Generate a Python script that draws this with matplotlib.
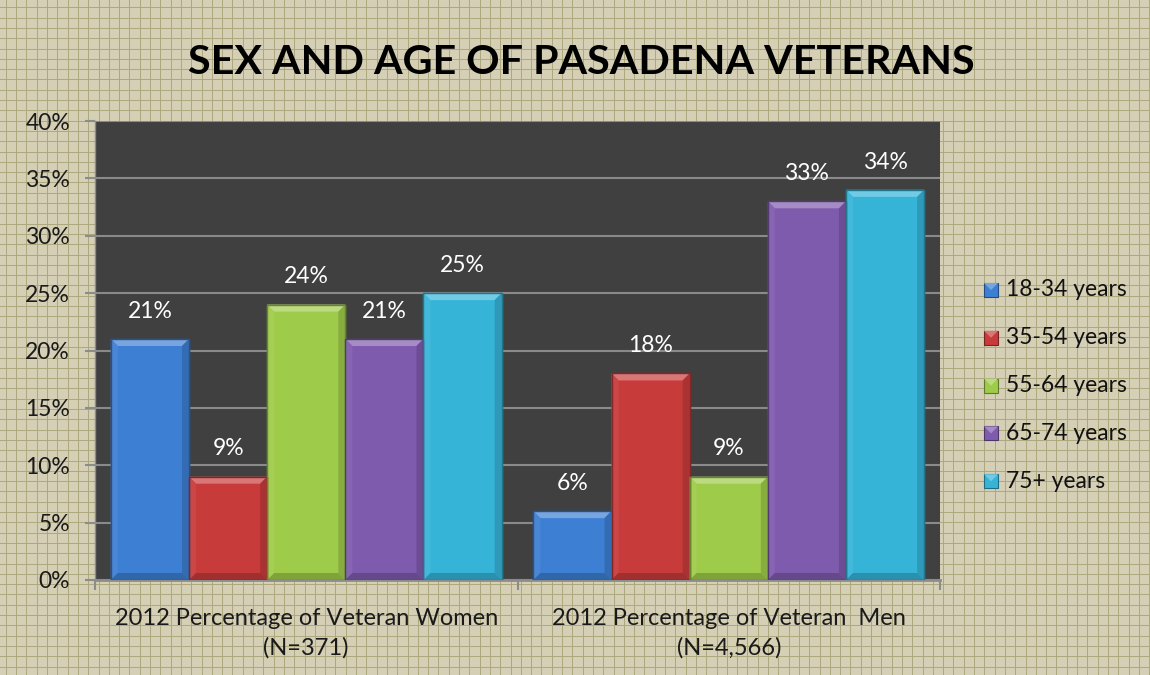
import matplotlib
matplotlib.use("Agg")
import matplotlib.pyplot as plt
from matplotlib.patches import Polygon, Rectangle
import matplotlib.colors as mcolors
import numpy as np

plt.rcParams['font.family'] = ['Lato', 'DejaVu Sans']

title = "SEX AND AGE OF PASADENA VETERANS"
categories = ["2012 Percentage of Veteran Women\n(N=371)",
              "2012 Percentage of Veteran  Men\n(N=4,566)"]
series = ["18-34 years", "35-54 years", "55-64 years", "65-74 years", "75+ years"]
values = {
    "18-34 years": [21, 6],
    "35-54 years": [9, 18],
    "55-64 years": [24, 9],
    "65-74 years": [21, 33],
    "75+ years": [25, 34],
}
colors = ["#3d7fd3", "#c83b3b", "#9fcb4a", "#7f5bae", "#36b4d8"]
yticks = [0, 5, 10, 15, 20, 25, 30, 35, 40]

W, H = 1150, 675
fig = plt.figure(figsize=(W / 100, H / 100), dpi=100)
fig.patch.set_facecolor("#d4cfb5")

# textured background grid
bg = fig.add_axes([0, 0, 1, 1], zorder=-5)
bg.set_xlim(0, W)
bg.set_ylim(H, 0)
bg.axis("off")
for gx in np.arange(5.8, W, 10.3):
    bg.axvline(gx, color="#aca77c", lw=0.7, zorder=0)
for gy in np.arange(7.3, H, 10.3):
    bg.axhline(gy, color="#aca77c", lw=0.7, zorder=0)

left, right, top, bottom = 95, 940, 121, 580
ax = fig.add_axes([left / W, 1 - bottom / H, (right - left) / W, (bottom - top) / H])
ax.set_facecolor("#404040")
ax.set_xlim(-0.5, 1.5)
ax.set_ylim(0, 40)

ax.set_yticks(yticks)
ax.set_yticklabels([f"{t}%" for t in yticks], fontsize=16.5, color="#1a1a1a")
ax.yaxis.grid(True, color="#8a8a8a", lw=1.5)
ax.set_axisbelow(True)
ax.tick_params(axis="y", length=7, width=1.5, color="#8c8c8c", pad=11)
ax.set_xticks([-0.5, 0.5, 1.5])
ax.set_xticklabels([])
ax.set_xticks([0, 1], minor=True)
ax.set_xticklabels(categories, minor=True, fontsize=17, color="#1a1a1a", linespacing=1.5)
ax.tick_params(axis="x", which="major", length=7, width=1.5, color="#8c8c8c", direction="out")
ax.tick_params(axis="x", which="minor", length=0, pad=20)
for s in ["top", "right"]:
    ax.spines[s].set_visible(False)
ax.spines["left"].set_color("#8c8c8c")
ax.spines["left"].set_linewidth(1.0)
ax.spines["bottom"].set_color("#8c8c8c")
ax.spines["bottom"].set_linewidth(2.0)

# pixel -> data conversions for bevels
px_x = 2.0 / (right - left)
px_y = 40.0 / (bottom - top)
bev = 7

def shade(c, f):
    r, g, b = mcolors.to_rgb(c)
    if f > 1:
        return (r + (1 - r) * (f - 1), g + (1 - g) * (f - 1), b + (1 - b) * (f - 1))
    return (r * f, g * f, b * f)

bw = 0.185
x = np.arange(len(categories))
for i, (name, col) in enumerate(zip(series, colors)):
    vals = values[name]
    bars = ax.bar(x + (i - 2) * bw, vals, width=bw, color=col,
                  edgecolor=shade(col, 0.7), linewidth=1.0, zorder=3)
    for rect, v in zip(bars, vals):
        x0, y0 = rect.get_x(), rect.get_y()
        x1, y1 = x0 + rect.get_width(), y0 + rect.get_height()
        dx, dy = bev * px_x, bev * px_y
        polys = [
            ([(x0, y1), (x1, y1), (x1 - dx, y1 - dy), (x0 + dx, y1 - dy)], shade(col, 1.3)),
            ([(x0, y0), (x0, y1), (x0 + dx, y1 - dy), (x0 + dx, y0 + dy)], shade(col, 1.06)),
            ([(x1, y0), (x1, y1), (x1 - dx, y1 - dy), (x1 - dx, y0 + dy)], shade(col, 0.85)),
            ([(x0, y0), (x1, y0), (x1 - dx, y0 + dy), (x0 + dx, y0 + dy)], shade(col, 0.8)),
        ]
        for pts, fc in polys:
            ax.add_patch(Polygon(pts, closed=True, facecolor=fc, edgecolor="none", zorder=4))
        ax.add_patch(Rectangle((x0, y0), x1 - x0, y1 - y0, fill=False,
                               edgecolor=shade(col, 0.65), lw=1.0, zorder=5))
        ax.annotate(f"{v}%", (rect.get_x() + rect.get_width() / 2, y1),
                    xytext=(0, 20), textcoords="offset points", ha="center", va="center",
                    fontsize=16.5, color="white", zorder=6)

fig.text(581 / W, 1 - 62 / H, title, ha="center", va="center",
         fontsize=29.7, fontweight="bold", color="black")

# legend
for i, (name, col) in enumerate(zip(series, colors)):
    cy = 290 + i * 47.8
    s = 14
    lx = 984
    bg.add_patch(Rectangle((lx, cy - s / 2), s, s, facecolor=col,
                           edgecolor=shade(col, 0.6), lw=0.8, zorder=2))
    bg.add_patch(Polygon([(lx, cy - s / 2), (lx + s, cy - s / 2), (lx + s / 2, cy)],
                         closed=True, facecolor=shade(col, 1.3), edgecolor="none", zorder=3))
    bg.text(1006, cy, name, ha="left", va="center", fontsize=16.5, color="#111111", zorder=3)

fig.savefig("out.png", dpi=100, facecolor=fig.get_facecolor())
